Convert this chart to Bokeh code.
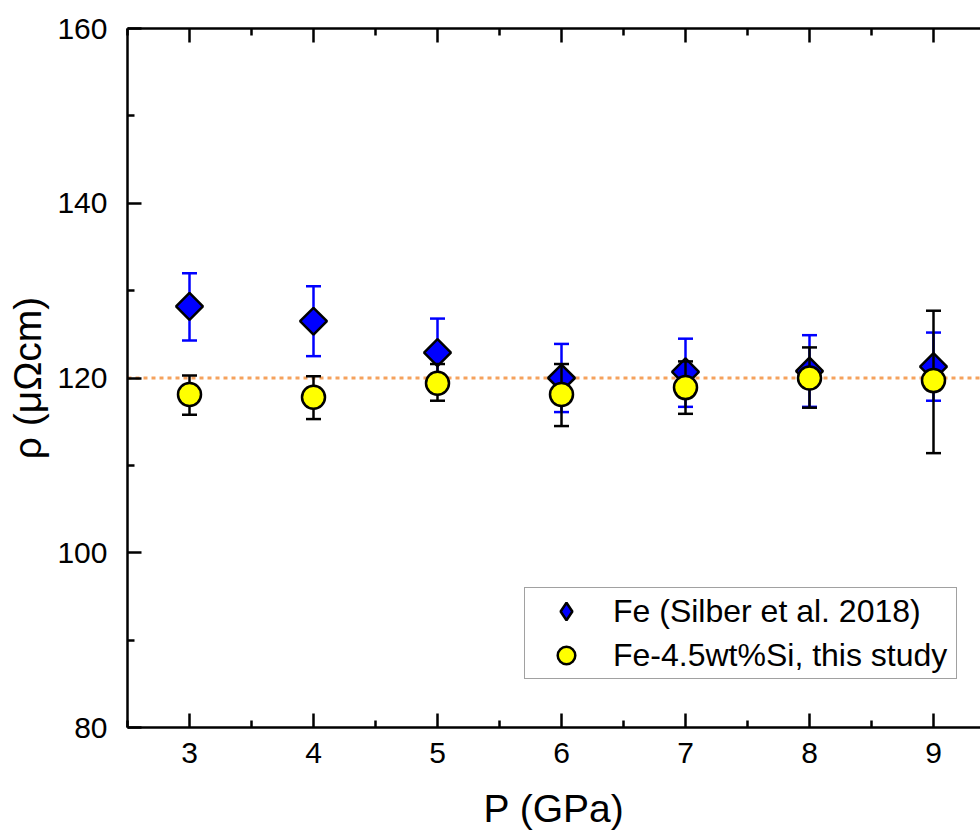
import math
from bokeh.plotting import figure
from bokeh.models import (Range1d, FixedTicker, LinearAxis, Span, Legend, LegendItem,
                          ColumnDataSource, PolyAnnotation)
from bokeh.embed import file_html
from bokeh.resources import INLINE

# ---- data ----
pressure = [3, 4, 5, 6, 7, 8, 9]
fe_rho = [128.2, 126.5, 122.9, 120.0, 120.7, 120.8, 121.3]
fe_low = [124.3, 122.5, 119.0, 116.1, 116.7, 116.7, 117.4]
fe_high = [132.0, 130.5, 126.8, 123.9, 124.5, 124.9, 125.2]
fesi_rho = [118.1, 117.8, 119.4, 118.1, 118.9, 120.0, 119.7]
fesi_low = [115.8, 115.3, 117.4, 114.5, 115.9, 116.6, 111.4]
fesi_high = [120.3, 120.2, 121.6, 121.6, 121.9, 123.5, 127.7]
ref_level = 120.0
x_ticks = [3, 4, 5, 6, 7, 8, 9]
x_minor = [2.5, 3.5, 4.5, 5.5, 6.5, 7.5, 8.5, 9.5]
y_ticks = [80, 100, 120, 140, 160]
y_minor = [90, 110, 130, 150]
fe_label = "Fe (Silber et al. 2018)"
fesi_label = "Fe-4.5wt%Si, this study"

FONT = "Liberation Sans"

# ---- layout constants (screen px) ----
W, H = 980, 832
FL, FT, FB = 127, 28, 105          # frame left / top border, bottom border
LEG_X, LEG_Y = 397, 48             # legend offset from frame bottom-left
LEG_PAD, GLYPH_W, GLYPH_H = 1, 80, 44
LEG_H = 2 * LEG_PAD + 2 * GLYPH_H

fe_src = ColumnDataSource(dict(x=pressure, y=fe_rho, lo=fe_low, hi=fe_high))
si_src = ColumnDataSource(dict(x=pressure, y=fesi_rho, lo=fesi_low, hi=fesi_high))

p = figure(width=W, height=H, output_backend="svg", toolbar_location=None,
           x_range=Range1d(2.5, 2.5 + (W - FL) / 124), y_range=Range1d(80, 160),
           min_border_left=FL, min_border_right=0, min_border_top=FT,
           min_border_bottom=FB, x_axis_label="P (GPa)", y_axis_label="ρ (μΩcm)")
p.outline_line_color = None
p.xgrid.visible = False
p.ygrid.visible = False
p.background_fill_color = "white"
p.border_fill_color = "white"

def style_axis(ax, ticks, minor):
    ax.ticker = FixedTicker(ticks=ticks, minor_ticks=minor)
    ax.axis_line_width = 2.5
    ax.axis_line_color = "black"
    ax.major_tick_line_width = 2.5
    ax.minor_tick_line_width = 2.5
    ax.major_tick_line_color = "black"
    ax.minor_tick_line_color = "black"
    ax.major_tick_in = 14
    ax.major_tick_out = 0
    ax.minor_tick_in = 7
    ax.minor_tick_out = 0
    ax.major_label_text_font = FONT
    ax.major_label_text_font_size = "30px"
    ax.major_label_text_color = "black"
    ax.axis_label_text_font = FONT
    ax.axis_label_text_font_size = "39px"
    ax.axis_label_text_font_style = "normal"
    ax.axis_label_text_color = "black"

for ax in p.xaxis:
    style_axis(ax, x_ticks, x_minor)
    ax.major_label_standoff = 15
    ax.axis_label_standoff = 21
for ax in p.yaxis:
    style_axis(ax, y_ticks, y_minor)
    ax.major_label_standoff = 20
    ax.axis_label_standoff = 5

top = LinearAxis()
style_axis(top, x_ticks, x_minor)
top.major_label_text_font_size = "1px"
top.major_label_text_color = None
top.major_label_standoff = 0
top.axis_label = None
p.add_layout(top, "above")

p.add_layout(Span(location=ref_level, dimension="width", line_color="#F5A25D",
                  line_width=3, line_dash="4 4", level="underlay"))

# Fe error bars and markers
p.segment(x0="x", y0="lo", x1="x", y1="hi", source=fe_src, line_color="blue", line_width=2.5)
p.scatter("x", "lo", source=fe_src, marker="dash", size=15, line_color="blue", line_width=2.5)
p.scatter("x", "hi", source=fe_src, marker="dash", size=15, line_color="blue", line_width=2.5)
fe_r = p.scatter("x", "y", source=fe_src, marker="square", angle=math.pi / 4, size=19,
                 fill_color="blue", line_color="black", line_width=2.5)

# Fe-Si error bars and markers
p.segment(x0="x", y0="lo", x1="x", y1="hi", source=si_src, line_color="black", line_width=2.5)
p.scatter("x", "lo", source=si_src, marker="dash", size=15, line_color="black", line_width=2.5)
p.scatter("x", "hi", source=si_src, marker="dash", size=15, line_color="black", line_width=2.5)
si_r = p.scatter("x", "y", source=si_src, marker="circle", size=23,
                 fill_color="yellow", line_color="black", line_width=2.5)

# legend glyphs are never rotated: the Fe item uses a diamond swatch (no points in plot),
# and a rotated-square swatch is layered on top of it in frame-relative screen units
fe_leg = p.scatter(x=[float("nan")], y=[float("nan")], marker="diamond", size=20,
                   fill_color="blue", line_color="black", line_width=2.5)

legend = Legend(items=[LegendItem(label=fe_label, renderers=[fe_leg]),
                       LegendItem(label=fesi_label, renderers=[si_r])],
                location=(LEG_X, LEG_Y), level="underlay")
legend.label_text_font = FONT
legend.label_text_font_size = "32px"
legend.label_text_color = "black"
legend.border_line_color = "#444444"
legend.border_line_width = 1.5
legend.background_fill_alpha = 1.0
legend.padding = LEG_PAD
legend.margin = 0
legend.spacing = 0
legend.glyph_width = GLYPH_W
legend.glyph_height = GLYPH_H
legend.label_height = GLYPH_H
legend.label_standoff = 7
legend.label_width = 342
p.add_layout(legend, "center")

cx = LEG_X + LEG_PAD + GLYPH_W / 2
cy = LEG_Y + LEG_H - LEG_PAD - GLYPH_H / 2
r = 13
swatch = PolyAnnotation(xs=[cx, cx + r, cx, cx - r], ys=[cy - r, cy, cy + r, cy],
                        xs_units="screen", ys_units="screen", fill_color="blue",
                        fill_alpha=1.0, line_color="black", line_alpha=1.0,
                        line_width=2.5, level="annotation")
p.add_layout(swatch, "center")

open("out.html", "w").write(file_html(p, INLINE))
